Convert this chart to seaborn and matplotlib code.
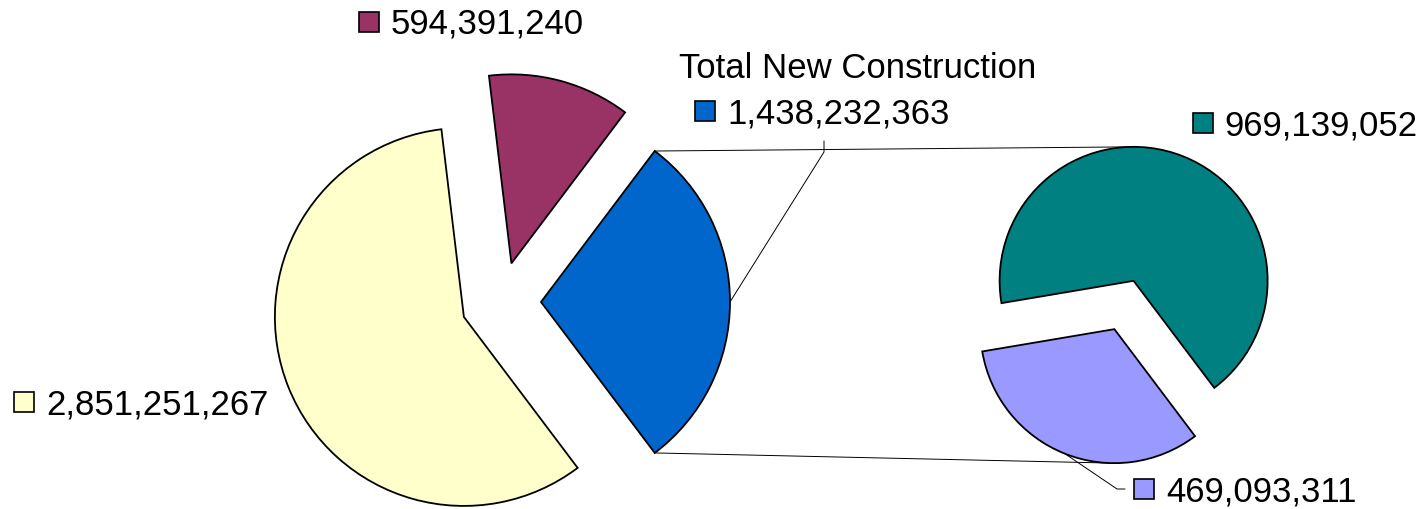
import numpy as np
import matplotlib
matplotlib.use("Agg")
import matplotlib.pyplot as plt
import seaborn as sns

# first pie: the three totals (Total New Construction is broken out on the right)
main_values = [1438232363, 594391240, 2851251267]
main_colors = ['#0066CC', '#993366', '#FFFFCC']
main_labels = ['1,438,232,363', '594,391,240', '2,851,251,267']

# second pie: split of Total New Construction
sub_values = [969139052, 469093311]
sub_colors = ['#008080', '#9999FF']
sub_labels = ['969,139,052', '469,093,311']

sns.set_theme(style='white')
plt.rcParams['font.family'] = ['Liberation Sans', 'DejaVu Sans']

fig = plt.figure(figsize=(14.26, 5.10), dpi=100)
ax = fig.add_axes([0, 0, 1, 1])

edge = dict(edgecolor='black', linewidth=1.3)
main_wedges, _ = ax.pie(main_values, colors=main_colors, startangle=-53,
                        explode=[40] * 3, radius=189, center=(501, 207),
                        wedgeprops=edge, frame=True)
sub_wedges, _ = ax.pie(sub_values, colors=sub_colors, startangle=-53,
                       explode=[26] * 2, radius=134, center=(1124, 204),
                       wedgeprops=edge, frame=True)


def arc_point(w, ang):
    a = np.deg2rad(ang)
    return w.center[0] + w.r * np.cos(a), w.center[1] + w.r * np.sin(a)


# connector lines between blue slice and the second pie
blue = main_wedges[0]
teal, lav = sub_wedges
x1, y1 = arc_point(blue, blue.theta2)
x2, y2 = arc_point(blue, blue.theta1)
ax.plot([x1, teal.center[0]], [y1, teal.center[1] + teal.r], color='black', lw=0.7, zorder=0.5)
ax.plot([x2, lav.center[0]], [y2, lav.center[1] - lav.r], color='black', lw=0.7, zorder=0.5)

# leader lines
bx, by = arc_point(blue, (blue.theta1 + blue.theta2) / 2)
ax.plot([bx, 824, 824], [by, 357, 368], color='black', lw=0.7)
lx, ly = arc_point(lav, (lav.theta1 + lav.theta2) / 2)
ax.plot([lx, 1117, 1125], [ly, 20, 20], color='black', lw=0.7)

# labels: (square x, square y, text x, baseline y)
label_pos = {
    '594,391,240': (369, 487, 391, 477, main_colors[1]),
    '1,438,232,363': (705, 398, 727, 387, main_colors[0]),
    '2,851,251,267': (24, 107, 46, 95, main_colors[2]),
    '969,139,052': (1203, 386, 1224, 375, sub_colors[0]),
    '469,093,311': (1144, 20, 1166, 8, sub_colors[1]),
}
for txt, (sx, sy, tx, ty, c) in label_pos.items():
    ax.plot([sx], [sy], marker='s', markersize=14.5, markerfacecolor=c,
            markeredgecolor='black', markeredgewidth=1.2, linestyle='none')
    ax.text(tx, ty, txt, fontsize=25, ha='left', va='baseline', color='black')

ax.text(679, 432, 'Total New Construction', fontsize=25, ha='left', va='baseline', color='black')

ax.set_xlim(0, 1426)
ax.set_ylim(0, 510)
ax.set_aspect('auto')
ax.axis('off')

fig.savefig('out.png', dpi=100, facecolor='white')
